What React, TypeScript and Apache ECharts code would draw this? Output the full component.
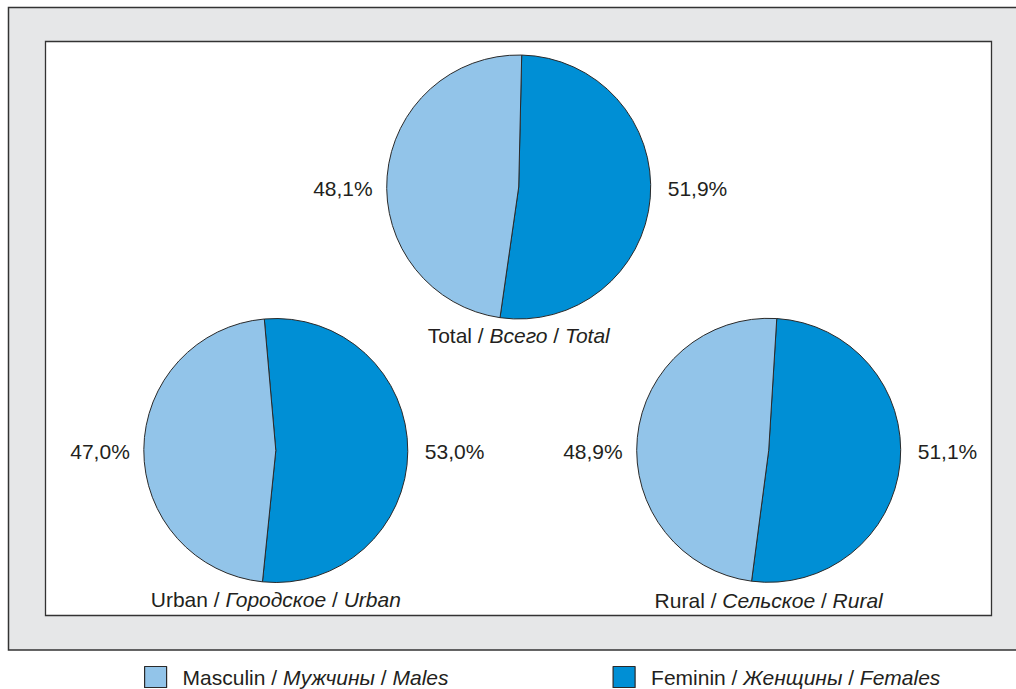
import React, { useEffect, useRef } from "react";
import * as echarts from "echarts";

const regions = ["Total", "Urban", "Rural"];
const regionTitles = [
  ["Total / ", "Всего", " / ", "Total"],
  ["Urban / ", "Городское", " / ", "Urban"],
  ["Rural / ", "Сельское", " / ", "Rural"],
];
const females = [51.9, 53.0, 51.1];
const males = [48.1, 47.0, 48.9];
const legendNames = ["Masculin", "Feminin"];
const legendTexts = [
  ["Masculin / ", "Мужчины", " / ", "Males"],
  ["Feminin / ", "Женщины", " / ", "Females"],
];

const FONT = "'Liberation Sans', Arial, Helvetica, sans-serif";
const TEXT = "#231f20";
const LIGHT = "#92c4e9";
const DARK = "#008fd5";
const EDGE = "#2a2a2a";

const centers = [
  [518.7, 187],
  [275.8, 450.5],
  [768.7, 450.3],
];
const R = 132;
const startAngles = [88.7, 95, 86.5];
const titleY = [335, 599, 600];

const fmt = (v: number) => v.toFixed(1).replace(".", ",") + "%";

const base = { fontFamily: FONT, fontSize: 21, color: TEXT, fontWeight: "normal" };
const rich = {
  n: { ...base, fontStyle: "normal" },
  i: { ...base, fontStyle: "italic" },
  n0: { ...base, fontStyle: "normal", padding: [0, 0, 0, 11] },
};

const toRich = (parts: string[], first = "n") =>
  `{${first}|${parts[0]}}{i|${parts[1]}}{n|${parts[2]}}{i|${parts[3]}}`;

export default function App() {
  const ref = useRef<HTMLDivElement>(null);
  useEffect(() => {
    if (!ref.current) return;
    const chart = echarts.init(ref.current, null, { renderer: "svg" });
    const series = regions.map((r, si) => ({
      type: "pie",
      name: r,
      center: centers[si],
      radius: R,
      startAngle: startAngles[si],
      clockwise: true,
      z: 5,
      silent: true,
      itemStyle: { borderColor: EDGE, borderWidth: 1 },
      label: {
        show: true,
        position: "outside",
        formatter: (p: any) => fmt(p.value),
        fontFamily: FONT,
        fontSize: 21,
        fontWeight: "normal",
        color: TEXT,
        overflow: "none",
        width: 120,
      },
      labelLine: { show: false },
      labelLayout: (p: any) => {
        const [cx, cy] = centers[p.seriesIndex];
        if (p.dataIndex === 0) {
          return { x: cx + R + 17, y: cy + 1, align: "left", verticalAlign: "middle" };
        }
        return { x: cx - R - 14, y: cy + 1, align: "right", verticalAlign: "middle" };
      },
      data: [
        { name: "Feminin", value: females[si], itemStyle: { color: DARK } },
        { name: "Masculin", value: males[si], itemStyle: { color: LIGHT } },
      ],
    }));

    const titles = regions.map((r, si) => ({
      text: toRich(regionTitles[si]),
      left: centers[si][0],
      top: titleY[si] - 12,
      textAlign: "center",
      padding: 0,
      textStyle: { ...base, rich, lineHeight: 24 },
    }));

    const legendLefts = [144, 612.5];
    const legends = legendNames.map((nm, li) => ({
      data: [nm],
      left: legendLefts[li],
      top: 665,
      padding: 0,
      itemWidth: 22,
      itemHeight: 21,
      icon: "rect",
      selectedMode: false,
      itemStyle: { borderColor: EDGE, borderWidth: 1.2 },
      formatter: () => toRich(legendTexts[li], "n0"),
      textStyle: { ...base, rich, lineHeight: 24 },
    }));

    chart.setOption({
      animation: false,
      backgroundColor: "#ffffff",
      title: titles,
      legend: legends,
      graphic: [
        {
          type: "rect",
          z: -10,
          silent: true,
          shape: { x: 8.5, y: 7.5, width: 1100, height: 642.5 },
          style: { fill: "#e6e7e8", stroke: "#333333", lineWidth: 1.5 },
        },
        {
          type: "rect",
          z: -9,
          silent: true,
          shape: { x: 45.5, y: 41.5, width: 946, height: 574 },
          style: { fill: "#ffffff", stroke: "#333333", lineWidth: 1.3 },
        },
      ],
      series,
    });
    return () => chart.dispose();
  }, []);
  return (
    <div
      ref={ref}
      style={{ position: "absolute", left: 0, top: 0, width: 1016, height: 689 }}
    />
  );
}
